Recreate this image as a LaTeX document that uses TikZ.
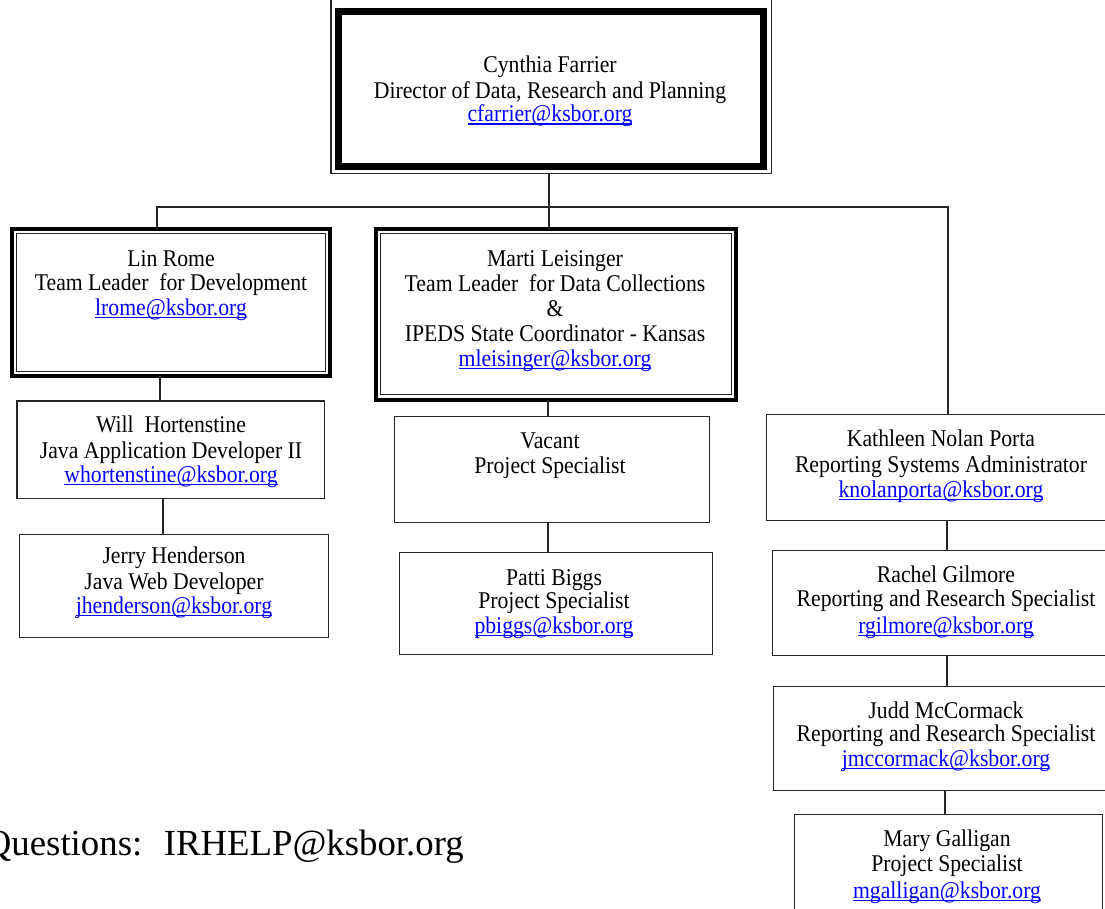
\documentclass[tikz,border=0pt]{standalone}
\usepackage{fontspec}
\setmainfont{Liberation Serif}
\usetikzlibrary{calc}
\newcommand\mail[1]{{\color{blue}\setbox0\hbox{#1}\rlap{\rule[-2.6pt]{\wd0}{1.1pt}}\box0}}
\newcommand\sx[1]{\scalebox{0.905}[1]{#1}}
\begin{document}
\begin{tikzpicture}[x=1pt,y=-1pt,
  box/.style={draw=black!85, line width=1.8pt, rectangle, inner sep=0pt, outer sep=0pt},
  heavy/.style={box, draw=black, line width=4pt},
  conn/.style={draw=black!85, line width=1.6pt},
  txt/.style={inner sep=0pt, anchor=base, font=\fontsize{24}{25}\selectfont},
]
\useasboundingbox (0,0) rectangle (1105,909);
\clip (0,0) rectangle (1105,909);

% boxes
\node[box, line width=1.5pt, minimum width=440.5pt, minimum height=175.5pt] (top) at (551.25,85.75) {};
\node[box, draw=black, line width=7pt, minimum width=425pt, minimum height=155.5pt] (topin) at (551,89.25) {};

\node[heavy, minimum width=318pt, minimum height=147.3pt] (lin) at (171,302.35) {};
\node[box, line width=1.3pt, minimum width=308.6pt, minimum height=137.9pt] (linin) at (171,302.35) {};

\node[heavy, minimum width=360.5pt, minimum height=170.8pt] (marti) at (555.75,314.1) {};
\node[box, line width=1.3pt, minimum width=351.1pt, minimum height=161.4pt] (martiin) at (555.75,314.1) {};

\node[box, minimum width=307.5pt, minimum height=97.5pt] (will) at (170.75,449.75) {};
\node[box, minimum width=309pt, minimum height=103pt] (jerry) at (174,586) {};
\node[box, minimum width=315pt, minimum height=106pt] (vacant) at (552,469.5) {};
\node[box, minimum width=313pt, minimum height=102pt] (patti) at (556,603.5) {};
\node[box, minimum width=348.5pt, minimum height=106pt] (kath) at (940.75,467.5) {};
\node[box, minimum width=342.5pt, minimum height=105pt] (rachel) at (943.75,603) {};
\node[box, minimum width=341.5pt, minimum height=104pt] (judd) at (944.25,738.5) {};
\node[box, minimum width=308pt, minimum height=110.5pt] (mary) at (948.5,869.75) {};

% connectors
\coordinate (bus) at (549,207);
\coordinate (busL) at (157,207);
\coordinate (busR) at (948,207);
\draw[conn] (top.south -| bus) -- (bus);
\draw[conn] (lin.north -| busL) -- (busL) -- (busR) -- (kath.north -| busR);
\draw[conn] (bus) -- (marti.north -| bus);
\coordinate (xa) at (160,0);
\coordinate (xb) at (163,0);
\coordinate (xc) at (548,0);
\coordinate (xd) at (947,0);
\coordinate (xe) at (945,0);
\draw[conn] (lin.south -| xa) -- (will.north -| xa);
\draw[conn] (will.south -| xb) -- (jerry.north -| xb);
\draw[conn] (marti.south -| xc) -- (vacant.north -| xc);
\draw[conn] (vacant.south -| xc) -- (patti.north -| xc);
\draw[conn] (kath.south -| xd) -- (rachel.north -| xd);
\draw[conn] (rachel.south -| xd) -- (judd.north -| xd);
\draw[conn] (judd.south -| xe) -- (mary.north -| xe);

% texts
\node[txt] (t1a) at (550,73) {\sx{Cynthia Farrier}};
\node[txt] (t1b) at (550,98.5) {\sx{Director of Data, Research and Planning}};
\node[txt] (t1c) at (550,122) {\sx{\mail{cfarrier@ksbor.org}}};

\node[txt] (t2a) at (171,266.5) {\sx{Lin Rome}};
\node[txt] (t2b) at (171,290.5) {\sx{Team Leader~ for Development}};
\node[txt] (t2c) at (171,315.5) {\sx{\mail{lrome@ksbor.org}}};

\node[txt] (t3a) at (555,266.5) {\sx{Marti Leisinger}};
\node[txt] (t3b) at (555,291) {\sx{Team Leader~ for Data Collections}};
\node[txt] (t3c) at (555,316) {\sx{\&}};
\node[txt] (t3d) at (555,341.5) {\sx{IPEDS State Coordinator - Kansas}};
\node[txt] (t3e) at (555,366.5) {\sx{\mail{mleisinger@ksbor.org}}};

\node[txt] (t4a) at (171,432.7) {\sx{Will~ Hortenstine}};
\node[txt] (t4b) at (171,458) {\sx{Java Application Developer II}};
\node[txt] (t4c) at (171,482) {\sx{\mail{whortenstine@ksbor.org}}};

\node[txt] (t5a) at (174,563.3) {\sx{Jerry Henderson}};
\node[txt] (t5b) at (174,589) {\sx{Java Web Developer}};
\node[txt] (t5c) at (174,613.3) {\sx{\mail{jhenderson@ksbor.org}}};

\node[txt] (t6a) at (550,448.3) {\sx{Vacant}};
\node[txt] (t6b) at (550,473.3) {\sx{Project Specialist}};

\node[txt] (t7a) at (554,585) {\sx{Patti Biggs}};
\node[txt] (t7b) at (554,608.5) {\sx{Project Specialist}};
\node[txt] (t7c) at (554,633.3) {\sx{\mail{pbiggs@ksbor.org}}};

\node[txt] (t8a) at (941,446.7) {\sx{Kathleen Nolan Porta}};
\node[txt] (t8b) at (941,472.5) {\sx{Reporting Systems Administrator}};
\node[txt] (t8c) at (941,497.3) {\sx{\mail{knolanporta@ksbor.org}}};

\node[txt] (t9a) at (946,582.7) {\sx{Rachel Gilmore}};
\node[txt] (t9b) at (946,606.7) {\sx{Reporting and Research Specialist}};
\node[txt] (t9c) at (946,633.3) {\sx{\mail{rgilmore@ksbor.org}}};

\node[txt] (t10a) at (946,718.3) {\sx{Judd McCormack}};
\node[txt] (t10b) at (946,741.7) {\sx{Reporting and Research Specialist}};
\node[txt] (t10c) at (946,766.7) {\sx{\mail{jmccormack@ksbor.org}}};

\node[txt] (t11a) at (947,846.7) {\sx{Mary Galligan}};
\node[txt] (t11b) at (947,871.7) {\sx{Project Specialist}};
\node[txt] (t11c) at (947,898.3) {\sx{\mail{mgalligan@ksbor.org}}};

\node[inner sep=0pt, anchor=base east, font=\fontsize{36.8}{40}\selectfont] (q) at (464,855) {Questions:~ IRHELP@ksbor.org};
\end{tikzpicture}
\end{document}
